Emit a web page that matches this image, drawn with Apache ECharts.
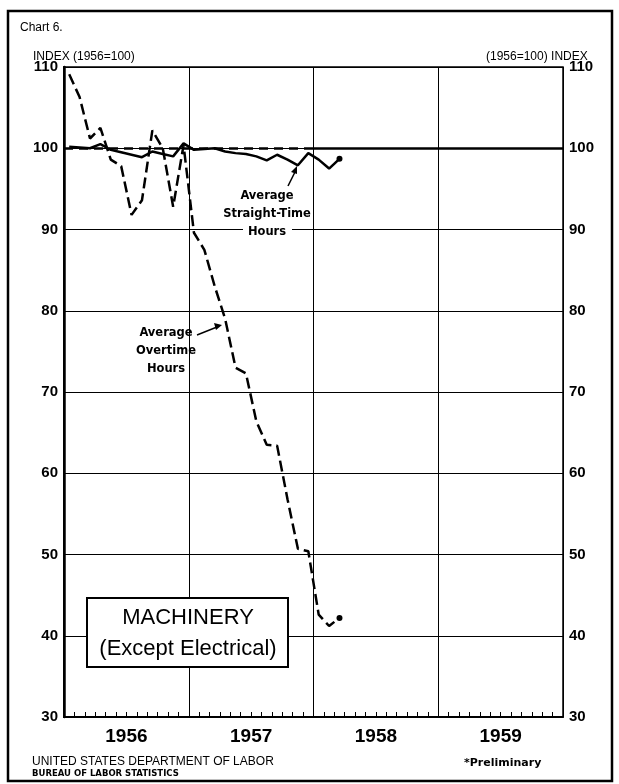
<!DOCTYPE html>
<html>
<head>
<meta charset="utf-8">
<script src="https://cdn.jsdelivr.net/npm/echarts@6/dist/echarts.min.js"></script>
<style>
  html, body { margin: 0; padding: 0; background: #fff; }
  #chart { width: 619px; height: 784px; }
</style>
</head>
<body>
<div id="chart"></div>
<script>
// years on the x axis (each year = 12 months)
const years = ['1956', '1957', '1958', '1959']
const yTicks = [30, 40, 50, 60, 70, 80, 90, 100, 110]

// monthly index values, Jan 1956 .. Mar 1958 (last month is preliminary)
const overtimeHours = [
  109.1, 106.3, 101.2, 102.5, 98.6, 97.8, 91.8, 93.6, 102.2, 100.0, 92.8, 100.4,
  89.6, 87.5, 83.0, 79.0, 73.0, 72.3, 66.4, 63.5, 63.4, 56.8, 50.7, 50.4,
  42.6, 41.2, 42.2
]
const straightTimeHours = [
  100.2, 100.1, 100.0, 100.5, 99.8, 99.5, 99.2, 98.9, 99.6, 99.3, 99.0, 100.6,
  99.8, 99.9, 100.0, 99.6, 99.4, 99.3, 99.0, 98.5, 99.2, 98.6, 97.9, 99.4,
  98.6, 97.5, 98.7
]

// months are plotted at the middle of each month
function toPoints(values) {
  return values.map((v, i) => {
    const p = { value: [i + 0.5, v] }
    if (i === values.length - 1) {
      // preliminary point
      p.symbol = 'circle'
      p.symbolSize = 6
      p.itemStyle = { color: '#000' }
    }
    return p
  })
}

const chart = echarts.init(document.getElementById('chart'))

const numFont = 'Liberation Sans'

const option = {
  animation: false,
  backgroundColor: '#fff',
  grid: {
    left: 64,
    right: 56,
    top: 67,
    bottom: 67,
    show: true,
    borderColor: '#000',
    borderWidth: 1.5,
    backgroundColor: 'transparent'
  },
  xAxis: [
    {
      type: 'value',
      min: 0,
      max: 48,
      interval: 1,
      axisLine: { lineStyle: { color: '#000', width: 2 } },
      axisTick: { inside: true, length: 5, lineStyle: { color: '#000', width: 1 } },
      splitLine: { show: false },
      axisLabel: {
        margin: 10,
        color: '#000',
        fontFamily: numFont,
        fontWeight: 'bold',
        fontSize: 19,
        formatter: function (v) {
          return v % 12 === 6 ? years[Math.floor(v / 12)] : ''
        }
      }
    },
    {
      // year separators
      type: 'value',
      min: 0,
      max: 48,
      interval: 12,
      position: 'bottom',
      axisLine: { show: false },
      axisTick: { show: false },
      axisLabel: { show: false },
      splitLine: { show: true, lineStyle: { color: '#000', width: 1 } }
    }
  ],
  yAxis: [
    {
      type: 'value',
      min: yTicks[0],
      max: yTicks[yTicks.length - 1],
      interval: 10,
      position: 'left',
      axisLine: { show: true, lineStyle: { color: '#000', width: 2.5 } },
      axisTick: { show: false },
      splitLine: { show: true, lineStyle: { color: '#000', width: 1 } },
      axisLabel: { margin: 6, color: '#000', fontFamily: numFont, fontWeight: 'bold', fontSize: 15 }
    },
    {
      type: 'value',
      min: yTicks[0],
      max: yTicks[yTicks.length - 1],
      interval: 10,
      position: 'right',
      axisLine: { show: true, lineStyle: { color: '#000', width: 2 } },
      axisTick: { show: false },
      splitLine: { show: false },
      axisLabel: { margin: 6, color: '#000', fontFamily: numFont, fontWeight: 'bold', fontSize: 15 }
    }
  ],
  series: [
    {
      name: 'Average Straight-Time Hours',
      type: 'line',
      data: toPoints(straightTimeHours),
      symbol: 'none',
      lineStyle: { color: '#000', width: 2.5 },
      z: 3,
      markLine: {
        silent: true,
        symbol: 'none',
        label: { show: false },
        data: [
          [
            { coord: [0, 100], lineStyle: { color: '#000', width: 2.5, type: [9, 6] } },
            { coord: [24, 100] }
          ],
          [
            { coord: [24, 100], lineStyle: { color: '#000', width: 2.5, type: 'solid' } },
            { coord: [48, 100] }
          ]
        ]
      }
    },
    {
      name: 'Average Overtime Hours',
      type: 'line',
      data: toPoints(overtimeHours),
      symbol: 'none',
      lineStyle: { color: '#000', width: 2.5, type: [11, 5] },
      z: 4
    }
  ],
  graphic: [
    // outer frame
    {
      type: 'rect', z: 0, silent: true,
      shape: { x: 8, y: 11, width: 604, height: 770 },
      style: { fill: 'none', stroke: '#000', lineWidth: 2.5 }
    },
    {
      type: 'text', left: 20, top: 22,
      style: { text: 'Chart 6.', font: '12px "Liberation Sans"', fill: '#000' }
    },
    {
      type: 'text', left: 33, top: 51,
      style: { text: 'INDEX (1956=100)', font: '12px "Liberation Sans"', fill: '#000' }
    },
    {
      type: 'text', left: 486, top: 51,
      style: { text: '(1956=100) INDEX', font: '12px "Liberation Sans"', fill: '#000' }
    },
    // labels on the lines
    {
      type: 'rect', z: 9, silent: true,
      shape: { x: 243, y: 225, width: 49, height: 14 },
      style: { fill: '#fff' }
    },
    {
      type: 'text', z: 10, x: 267, y: 214,
      style: {
        text: 'Average\nStraight-Time\nHours',
        font: 'bold 11.5px "DejaVu Sans"', fill: '#000',
        align: 'center', verticalAlign: 'middle', lineHeight: 18
      }
    },
    {
      type: 'line', z: 10,
      shape: { x1: 288, y1: 186, x2: 296, y2: 170 },
      style: { stroke: '#000', lineWidth: 1.5 }
    },
    {
      type: 'polygon', z: 10,
      shape: { points: [[297, 166], [291, 172], [297, 174]] },
      style: { fill: '#000' }
    },
    {
      type: 'text', z: 10, x: 166, y: 351,
      style: {
        text: 'Average\nOvertime\nHours',
        font: 'bold 11.5px "DejaVu Sans"', fill: '#000',
        align: 'center', verticalAlign: 'middle', lineHeight: 18
      }
    },
    {
      type: 'line', z: 10,
      shape: { x1: 197, y1: 335, x2: 217, y2: 327 },
      style: { stroke: '#000', lineWidth: 1.5 }
    },
    {
      type: 'polygon', z: 10,
      shape: { points: [[222, 325], [214, 323], [216, 330]] },
      style: { fill: '#000' }
    },
    // title box
    {
      type: 'rect', z: 10,
      shape: { x: 87, y: 598, width: 201, height: 69 },
      style: { fill: '#fff', stroke: '#000', lineWidth: 2 }
    },
    {
      type: 'text', z: 11, x: 188, y: 618,
      style: {
        text: 'MACHINERY', font: '22px "Liberation Sans"', fill: '#000',
        align: 'center', verticalAlign: 'middle'
      }
    },
    {
      type: 'text', z: 11, x: 188, y: 649,
      style: {
        text: '(Except Electrical)', font: '22px "Liberation Sans"', fill: '#000',
        align: 'center', verticalAlign: 'middle'
      }
    },
    // footer
    {
      type: 'text', left: 32, top: 756,
      style: { text: 'UNITED STATES DEPARTMENT OF LABOR', font: '12px "Liberation Sans"', fill: '#000' }
    },
    {
      type: 'text', left: 32, top: 769,
      style: { text: 'BUREAU OF LABOR STATISTICS', font: 'bold 8.5px "DejaVu Sans"', fill: '#000' }
    },
    {
      type: 'text', left: 464, top: 758,
      style: { text: '*Preliminary', font: 'bold 11px "DejaVu Sans"', fill: '#000' }
    }
  ]
}

chart.setOption(option)
</script>
</body>
</html>
